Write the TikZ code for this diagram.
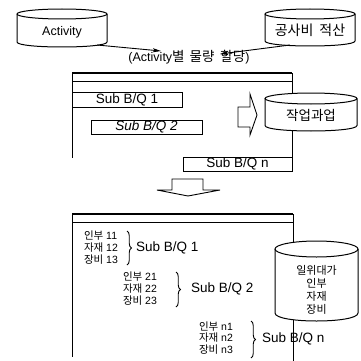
\documentclass[tikz,border=0pt]{standalone}
\usepackage{fontspec}
\setmainfont{Liberation Sans}
\newfontfamily\kr{Noto Sans CJK KR}
\usetikzlibrary{arrows.meta,calc,decorations.pathreplacing}
\newcommand\K[1]{{\kr #1}}
% cylinder outline around a frame node: #1 node, #2 half width (pt), #3 ellipse radius (pt)
\newcommand\cylout[3]{%
  \draw ([yshift=-#3pt]#1.north) ellipse [x radius=#2pt, y radius=#3pt];
  \draw ([yshift=-#3pt]#1.north west) -- ([yshift=#3pt]#1.south west)
    .. controls ([yshift=-#3pt/3]#1.south west) and ([yshift=-#3pt/3]#1.south east) .. ([yshift=#3pt]#1.south east)
    -- ([yshift=-#3pt]#1.north east);
}
\begin{document}
\begin{tikzpicture}[x=1pt,y=-1pt,line width=1pt,
  every node/.style={inner sep=0pt,outer sep=0pt},
  latf/.style={font=\fontsize{12.5}{15}\selectfont},
  krf/.style={font=\kr\fontsize{13.5}{15}\selectfont},
  subf/.style={font=\fontsize{13.5}{16}\selectfont},
  smallf/.style={font=\fontsize{10.5}{12}\selectfont, align=left, anchor=west},
  sbox/.style={draw, line width=1pt, font=\fontsize{13.5}{16}\selectfont},
  arr/.style={-{Stealth[length=8pt,width=4pt,inset=1.5pt]}, line width=0.9pt},
  bar/.style={line width=1.9pt},
  bracestyle/.style={decorate, decoration={brace, amplitude=4.5pt}, line width=0.9pt},
]
\useasboundingbox (0,0) rectangle (360,361);

% ---- top cylinders ----
\node[minimum width=90pt, minimum height=38pt] (actc) at (62,28) {};
\cylout{actc}{45}{5}
\node[latf] (act) at ([yshift=-4pt]actc.center) {Activity};

\node[minimum width=90pt, minimum height=37pt] (costc) at (310,27.5) {};
\cylout{costc}{45}{5}
\node[krf, font=\kr\fontsize{14}{16}\selectfont] (cost) at ([yshift=-3pt]costc.center) {공사비\hspace{6pt}적산};

% ---- label ----
\node[font=\fontsize{12.5}{14}\selectfont] (lbl) at (189,57)
  {(Activity\K{\fontsize{13.5}{15}\selectfont 별\hspace{5pt}물량\hspace{6pt}할당})};

\draw[arr] ([shift={(35pt,2pt)}]actc.south) -- ([shift={(-28pt,6pt)}]lbl.center);
\draw[arr] ([shift={(-20pt,1pt)}]costc.south) -- ([shift={(31pt,3pt)}]lbl.center);

% ---- document 1 ----
\draw[bar] (72,73) -- (292,73);
\draw (72,81) -- (292,81);
\draw (72,73) -- (72,158);

\node[minimum width=92pt, minimum height=38pt] (workc) at (311,112) {};
\cylout{workc}{46}{5.5}
\node[krf] (work) at ([yshift=-3pt]workc.center) {작업과업};

\draw (292,73) -- (292,94);

\node[sbox, minimum width=110pt, minimum height=15pt] (s1) at (127,99.5) {Sub B/Q 1};
\node[sbox, minimum width=111pt, minimum height=14pt, font=\fontsize{13.5}{16}\selectfont\itshape] (s2) at (146.5,127) {Sub B/Q 2};
\node[sbox, minimum width=109pt, minimum height=14pt] (sn) at (237.5,164) {Sub B/Q n};

\draw (workc.south -| sn.north east) -- (sn.north east);

% right block arrow
\draw[line width=0.9pt] (238,107) -- (250,107) -- (250,94) -- (257,115) -- (250,135) -- (250,127) -- (238,127) -- cycle;

% down block arrow
\draw[line width=0.9pt] (172,179) -- (203,179) -- (203,190) -- (220,190) -- (188,196) -- (157,190) -- (172,190) -- cycle;

% ---- document 2 ----
\draw[bar] (72,214) -- (293,214);
\draw (72,222) -- (293,222);
\draw (72,214) -- (72,357);

\node[minimum width=83pt, minimum height=80pt] (unitc) at (316.5,281) {};
\cylout{unitc}{41.5}{8}
\node[font=\kr\fontsize{11}{12.8}\selectfont, align=center] (unit) at ([yshift=-9pt]unitc.center) {일위대가\\인부\\자재\\장비};

\draw (293,214) -- (293,242.5);
\coordinate (bend) at (293,361);
\draw (293,319.6) -- (bend);

\node[smallf] (g1) at (84,248) {\K{인부}\ 11\\\K{자재}\ 12\\\K{장비}\ 13};
\draw[bracestyle] (127,231) -- (127,265);
\node[subf, anchor=west] (l1) at (136,248) {Sub B/Q 1};

\node[smallf] (g2) at (123,289) {\K{인부}\ 21\\\K{자재}\ 22\\\K{장비}\ 23};
\draw[bracestyle] (176,272) -- (176,307);
\node[subf, anchor=west] (l2) at (191,289) {Sub B/Q 2};

\node[smallf, font=\fontsize{10.5}{11.3}\selectfont] (g3) at (199,338) {\K{인부}\ n1\\\K{자재}\ n2\\\K{장비}\ n3};
\draw[bracestyle] (251,321) -- (251,358);
\node[subf, anchor=west] (l3) at (262,339) {Sub B/Q n};
\end{tikzpicture}
\end{document}
